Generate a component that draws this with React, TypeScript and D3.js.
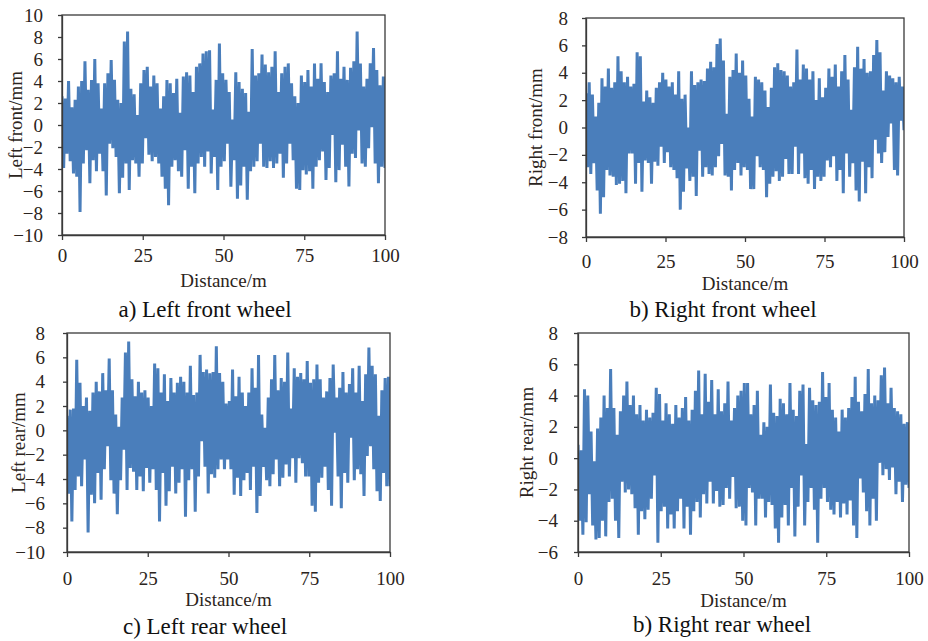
import { useEffect, useRef } from 'react';
import * as d3 from 'd3';

const distanceTicks = [0, 25, 50, 75, 100];

const leftFrontTicks = [-10, -8, -6, -4, -2, 0, 2, 4, 6, 8, 10];
const rightFrontTicks = [-8, -6, -4, -2, 0, 2, 4, 6, 8];
const leftRearTicks = [-10, -8, -6, -4, -2, 0, 2, 4, 6, 8];
const rightRearTicks = [-6, -4, -2, 0, 2, 4, 6, 8];

// local maxima / minima of each trace (mm), read left to right off the picture
const leftFrontPeaks = [
  2.6, 2.4, 4.0, 1.6, 2.3, 3.5, 4.0, 5.8, 3.2, 4.1,
  6.0, 3.8, 1.5, 3.8, 4.7, 5.9, 4.1, 2.3, 2.0, 7.6,
  8.5, 3.3, 2.8, 0.9, 3.8, 5.0, 5.3, 3.5, 4.5, 3.8,
  1.5, 2.6, 4.1, 3.8, 2.9, 4.2, 1.1, 4.4, 4.8, 4.5,
  3.0, 5.3, 5.6, 6.5, 6.7, 6.8, 1.4, 4.1, 7.4, 4.7,
  4.1, 3.0, 0.5, 4.8, 3.9, 3.3, 2.9, 1.2, 6.9, 4.5,
  4.7, 6.4, 5.5, 4.8, 5.3, 6.7, 3.0, 4.7, 5.3, 5.6,
  3.8, 2.6, 2.0, 4.5, 3.9, 5.0, 3.5, 5.6, 4.2, 5.6,
  3.9, 3.0, 4.5, 4.7, 6.7, 4.2, 5.3, 4.1, 5.2, 5.8,
  8.5, 5.6, 3.5, 4.2, 5.6, 7.0, 5.0, 3.6, 4.4,
];
const leftFrontTroughs = [
  -3.9, -2.6, -3.3, -4.4, -4.7, -7.9, -3.5, -2.3, -5.3, -3.2,
  -4.2, -2.6, -4.2, -6.4, -1.7, -2.1, -2.9, -6.2, -4.8, -3.5,
  -5.9, -3.2, -3.5, -4.7, -3.5, -1.2, -2.7, -3.3, -2.9, -3.5,
  -4.7, -5.8, -7.3, -3.8, -3.2, -4.2, -4.7, -2.3, -5.8, -3.8,
  -6.2, -3.5, -2.9, -3.8, -2.4, -4.4, -2.9, -5.9, -3.8, -3.3,
  -1.7, -5.6, -3.2, -6.7, -5.5, -3.8, -6.8, -4.2, -3.8, -3.3,
  -1.7, -3.8, -3.9, -3.3, -3.9, -3.5, -2.6, -4.8, -3.5, -1.7,
  -3.2, -5.8, -5.9, -4.1, -4.5, -4.2, -5.8, -3.8, -3.2, -2.4,
  -5.0, -3.9, -0.9, -5.2, -4.1, -1.8, -3.8, -5.6, -2.6, -3.0,
  -0.5, -3.5, -3.8, -2.1, -0.2, -3.5, -5.3, -3.8, -3.9,
];

const rightFrontPeaks = [
  2.5, 3.3, 2.4, 0.8, 1.8, 3.6, 3.0, 4.3, 2.9, 3.3,
  5.2, 4.1, 3.3, 3.7, 3.0, 3.2, 5.5, 5.2, 1.9, 2.7,
  2.2, 1.8, 2.9, 3.3, 4.0, 3.5, 3.0, 3.3, 2.4, 4.1,
  2.1, 2.4, 0.0, 4.1, 3.1, 3.3, 3.5, 3.4, 4.3, 4.8,
  4.4, 6.1, 6.5, 4.9, 1.0, 3.7, 4.2, 5.4, 4.0, 4.9,
  3.8, 2.1, 0.8, 3.7, 3.5, 3.3, 2.7, 1.5, 2.9, 4.4,
  4.7, 4.2, 4.1, 3.8, 3.0, 3.3, 5.7, 3.5, 4.6, 4.3,
  3.5, 4.1, 2.0, 3.6, 2.2, 2.9, 4.3, 3.7, 4.6, 3.0,
  4.1, 5.3, 3.5, 1.3, 4.4, 5.9, 4.3, 5.0, 4.0, 4.1,
  5.3, 6.4, 5.5, 2.7, 4.1, 3.8, 3.6, 3.3, 3.7, 3.0,
];
const rightFrontTroughs = [
  -2.9, -3.4, -2.6, -4.6, -6.3, -5.1, -3.1, -3.5, -3.6, -4.2,
  -4.1, -3.9, -4.8, -1.9, -1.9, -4.1, -2.6, -4.7, -2.4, -2.6,
  -4.1, -2.5, -2.8, -1.4, -2.6, -1.8, -2.9, -3.1, -3.7, -6.0,
  -4.7, -3.0, -3.9, -3.6, -5.0, -1.7, -3.6, -2.9, -3.4, -3.5,
  -2.9, -2.1, -1.2, -3.5, -3.6, -4.6, -3.1, -2.6, -3.5, -2.9,
  -3.1, -4.5, -4.5, -2.1, -2.9, -3.1, -5.1, -4.1, -3.6, -3.2,
  -3.9, -3.6, -2.3, -3.4, -3.4, -1.4, -3.4, -1.9, -3.7, -4.1,
  -3.1, -4.5, -3.6, -3.9, -3.6, -2.4, -2.9, -2.1, -3.9, -3.1,
  -4.8, -1.9, -3.6, -2.6, -4.6, -5.4, -2.5, -4.8, -2.9, -3.7,
  -0.9, -1.9, -2.6, -1.8, -0.7, 0.3, -3.1, -3.5, 0.5, -0.2,
];

const leftRearPeaks = [
  1.2, 1.7, 1.8, 5.8, 3.9, 2.0, 2.7, 1.6, 3.1, 4.0,
  3.2, 4.7, 3.3, 5.9, 3.3, 1.3, 0.3, 2.7, 6.4, 7.3,
  4.2, 2.8, 4.0, 3.1, 3.3, 2.7, 2.0, 5.5, 5.1, 3.1,
  4.6, 2.4, 4.3, 3.1, 3.9, 4.4, 4.0, 3.1, 5.3, 2.9,
  3.1, 6.2, 4.8, 5.0, 4.7, 4.8, 6.9, 4.7, 4.0, 2.2,
  2.4, 5.0, 2.8, 4.4, 3.1, 2.0, 3.1, 5.1, 3.5, 6.2,
  1.3, 0.2, 2.7, 4.2, 6.2, 3.3, 4.3, 4.0, 6.4, 1.8,
  5.1, 4.4, 4.7, 4.2, 5.7, 3.9, 4.2, 5.4, 4.2, 2.7,
  3.2, 4.3, 5.4, 2.7, 3.5, 4.8, 3.1, 3.8, 5.1, 3.1,
  5.3, 2.4, 4.6, 6.8, 5.3, 4.6, 1.2, 3.3, 4.3, 4.4,
];
const leftRearTroughs = [
  -5.2, -7.5, -4.9, -3.8, -4.6, -2.4, -8.4, -5.3, -6.0, -3.5,
  -5.7, -3.2, -1.3, -4.1, -5.2, -6.9, -4.1, -1.6, -4.9, -3.1,
  -3.4, -4.9, -3.8, -5.0, -3.1, -4.3, -3.2, -4.9, -7.5, -3.5,
  -6.2, -5.0, -3.0, -5.2, -4.3, -3.2, -7.1, -4.1, -3.2, -6.7,
  -3.8, -0.9, -3.0, -5.2, -3.6, -3.9, -3.2, -2.4, -3.2, -2.4,
  -3.2, -5.3, -3.9, -5.4, -4.1, -3.5, -4.9, -3.0, -6.8, -5.4,
  -3.0, -4.1, -4.6, -3.6, -2.4, -4.6, -3.9, -2.8, -3.8, -2.3,
  -4.3, -2.3, -2.7, -3.8, -3.8, -6.2, -6.7, -4.3, -3.9, -3.0,
  -4.9, -6.2, -0.2, -3.8, -6.4, -3.5, -4.3, -0.6, -4.1, -3.2,
  -3.6, -5.4, -2.1, -1.3, -3.2, -5.0, -5.8, -3.5, -4.6, -4.6,
];

const rightRearPeaks = [
  0.85, 0.5, 4.4, 4.0, 1.7, -0.2, 1.9, 2.6, 4.0, 3.2,
  5.7, 3.2, 1.5, 3.0, 4.0, 4.9, 3.4, 4.0, 2.8, 3.4,
  2.4, 3.1, 2.6, 2.9, 4.5, 4.1, 2.4, 3.5, 2.8, 2.2,
  3.4, 2.6, 3.2, 3.9, 2.4, 3.1, 4.3, 5.6, 2.8, 5.4,
  3.6, 5.0, 2.8, 4.4, 3.0, 3.5, 4.9, 2.4, 3.2, 4.0,
  4.3, 4.8, 4.8, 2.8, 3.4, 4.3, 1.5, 2.3, 2.0, 4.7,
  2.9, 2.7, 3.8, 3.5, 2.8, 4.8, 3.1, 2.7, 4.3, 4.7,
  0.9, 4.5, 3.7, 3.4, 3.6, 5.5, 3.9, 4.8, 3.1, 2.6,
  1.7, 3.1, 2.6, 3.2, 3.9, 5.2, 3.6, 3.0, 4.1, 5.7,
  3.5, 4.0, 3.7, 5.3, 5.8, 3.5, 4.5, 3.2, 3.0, 2.8,
  2.2, 2.3,
];
const rightRearTroughs = [
  -4.0, -4.9, -4.1, -2.3, -4.3, -5.2, -5.1, -4.0, -5.0, -2.8,
  -2.6, -4.0, -5.1, -1.5, -2.2, -2.0, -2.3, -3.2, -4.9, -3.4,
  -3.9, -3.3, -2.6, -1.1, -5.4, -3.4, -3.1, -4.5, -3.6, -4.5,
  -3.4, -2.6, -4.5, -3.1, -4.9, -3.4, -2.8, -3.8, -2.3, -2.9,
  -1.5, -2.9, -2.1, -3.1, -3.0, -1.9, -2.6, -1.2, -3.2, -3.1,
  -4.0, -4.3, -1.9, -2.2, -4.3, -2.6, -2.6, -3.8, -2.8, -3.0,
  -4.5, -5.4, -3.8, -3.0, -4.3, -1.9, -5.0, -3.1, -1.1, -4.3,
  -2.8, -1.9, -3.3, -5.4, -2.6, -1.9, -2.8, -3.3, -3.6, -2.8,
  -3.8, -2.9, -3.6, -2.7, -4.3, -5.1, -1.3, -2.2, -3.4, -4.3,
  -2.6, -4.0, -0.3, -1.1, -0.7, -1.4, -0.6, -2.3, -1.5, -2.8,
  -1.7, -1.9,
];

const panels = [
  {
    peaks: leftFrontPeaks, troughs: leftFrontTroughs, ticks: leftFrontTicks,
    yTitle: 'Left front/mm', caption: 'a) Left front wheel',
    box: { left: 62, right: 385, top: 15, bottom: 235 },
    yGap: 19, xGap: 14, titleBase: 287, yTitleX: 22, captionX: 205, captionBase: 317,
  },
  {
    peaks: rightFrontPeaks, troughs: rightFrontTroughs, ticks: rightFrontTicks,
    yTitle: 'Right front/mm', caption: 'b) Right front wheel',
    box: { left: 586, right: 904, top: 18, bottom: 237 },
    yGap: 18, xGap: 18, titleBase: 290, yTitleX: 542, captionX: 723, captionBase: 317,
  },
  {
    peaks: leftRearPeaks, troughs: leftRearTroughs, ticks: leftRearTicks,
    yTitle: 'Left rear/mm', caption: 'c) Left rear wheel',
    box: { left: 67, right: 390, top: 333, bottom: 552 },
    yGap: 22, xGap: 20, titleBase: 606, yTitleX: 25, captionX: 205, captionBase: 634,
  },
  {
    peaks: rightRearPeaks, troughs: rightRearTroughs, ticks: rightRearTicks,
    yTitle: 'Right rear/mm', caption: 'b) Right rear wheel',
    box: { left: 578, right: 909, top: 333, bottom: 552 },
    yGap: 20, xGap: 20, titleBase: 607, yTitleX: 533, captionX: 722, captionBase: 632,
  },
];

interface TracePoint {
  d: number;
  v: number;
}

// peak, trough, peak, trough ... spread evenly over 0-100 m
function toTrace(peaks: number[], troughs: number[]): TracePoint[] {
  const vals = d3.merge(peaks.map((v, i) => [v, troughs[i]]));
  return vals.map((v, k) => ({ d: (k / (vals.length - 1)) * 100, v }));
}

const FONT = '"Liberation Serif", "Times New Roman", serif';
const TEXT = '#2b2420';
const AXIS = '#3a3a3a';
const LINE = '#4a7ebb';

export default function App() {
  const svgRef = useRef<SVGSVGElement>(null);

  useEffect(() => {
    if (!svgRef.current) return;
    const svg = d3.select(svgRef.current);
    svg.selectAll('*').remove();

    panels.forEach((p, k) => {
      const b = p.box;
      const x = d3.scaleLinear().domain([0, 100]).range([b.left, b.right]);
      const y = d3.scaleLinear()
        .domain([p.ticks[0], p.ticks[p.ticks.length - 1]])
        .range([b.bottom, b.top]);

      const g = svg.append('g');

      g.append('clipPath')
        .attr('id', `plot-clip-${k}`)
        .append('rect')
        .attr('x', b.left)
        .attr('y', b.top)
        .attr('width', b.right - b.left)
        .attr('height', b.bottom - b.top);

      // signal
      const line = d3.line<TracePoint>()
        .x(d => x(d.d))
        .y(d => y(d.v));

      g.append('path')
        .datum(toTrace(p.peaks, p.troughs))
        .attr('clip-path', `url(#plot-clip-${k})`)
        .attr('fill', 'none')
        .attr('stroke', LINE)
        .attr('stroke-width', 3)
        .attr('stroke-linejoin', 'bevel')
        .attr('d', line);

      // frame
      g.append('rect')
        .attr('x', b.left)
        .attr('y', b.top)
        .attr('width', b.right - b.left)
        .attr('height', b.bottom - b.top)
        .attr('fill', 'none')
        .attr('stroke', AXIS)
        .attr('stroke-width', 1.3);

      // y axis
      const yAxis = g.append('g')
        .attr('transform', `translate(${b.left},0)`)
        .call(d3.axisLeft(y).tickValues(p.ticks).tickSize(4).tickSizeOuter(0).tickPadding(p.yGap - 4));
      yAxis.select('.domain').attr('stroke', AXIS).attr('stroke-width', 1.3);
      yAxis.selectAll('line').attr('stroke', AXIS).attr('stroke-width', 1.3);
      yAxis.selectAll('text')
        .attr('font-family', FONT)
        .attr('font-size', 19)
        .attr('fill', TEXT);

      // x axis
      const xAxis = g.append('g')
        .attr('transform', `translate(0,${b.bottom})`)
        .call(d3.axisBottom(x).tickValues(distanceTicks).tickSize(5).tickSizeOuter(0).tickPadding(p.xGap - 5));
      xAxis.select('.domain').attr('stroke', AXIS).attr('stroke-width', 1.3);
      xAxis.selectAll('line').attr('stroke', AXIS).attr('stroke-width', 1.3);
      xAxis.selectAll('text')
        .attr('font-family', FONT)
        .attr('font-size', 19)
        .attr('fill', TEXT);

      // titles
      g.append('text')
        .attr('x', (b.left + b.right) / 2)
        .attr('y', p.titleBase)
        .attr('text-anchor', 'middle')
        .attr('font-family', FONT)
        .attr('font-size', 19)
        .attr('fill', TEXT)
        .text('Distance/m');

      g.append('text')
        .attr('transform', `translate(${p.yTitleX},${(b.top + b.bottom) / 2}) rotate(-90)`)
        .attr('text-anchor', 'middle')
        .attr('font-family', FONT)
        .attr('font-size', 19)
        .attr('fill', TEXT)
        .text(p.yTitle);

      g.append('text')
        .attr('x', p.captionX)
        .attr('y', p.captionBase)
        .attr('text-anchor', 'middle')
        .attr('font-family', FONT)
        .attr('font-size', 23)
        .attr('fill', '#111')
        .text(p.caption);
    });
  }, []);

  return (
    <svg
      ref={svgRef}
      width={928}
      height={641}
      style={{ position: 'absolute', left: 0, top: 0, background: '#fff' }}
    />
  );
}
